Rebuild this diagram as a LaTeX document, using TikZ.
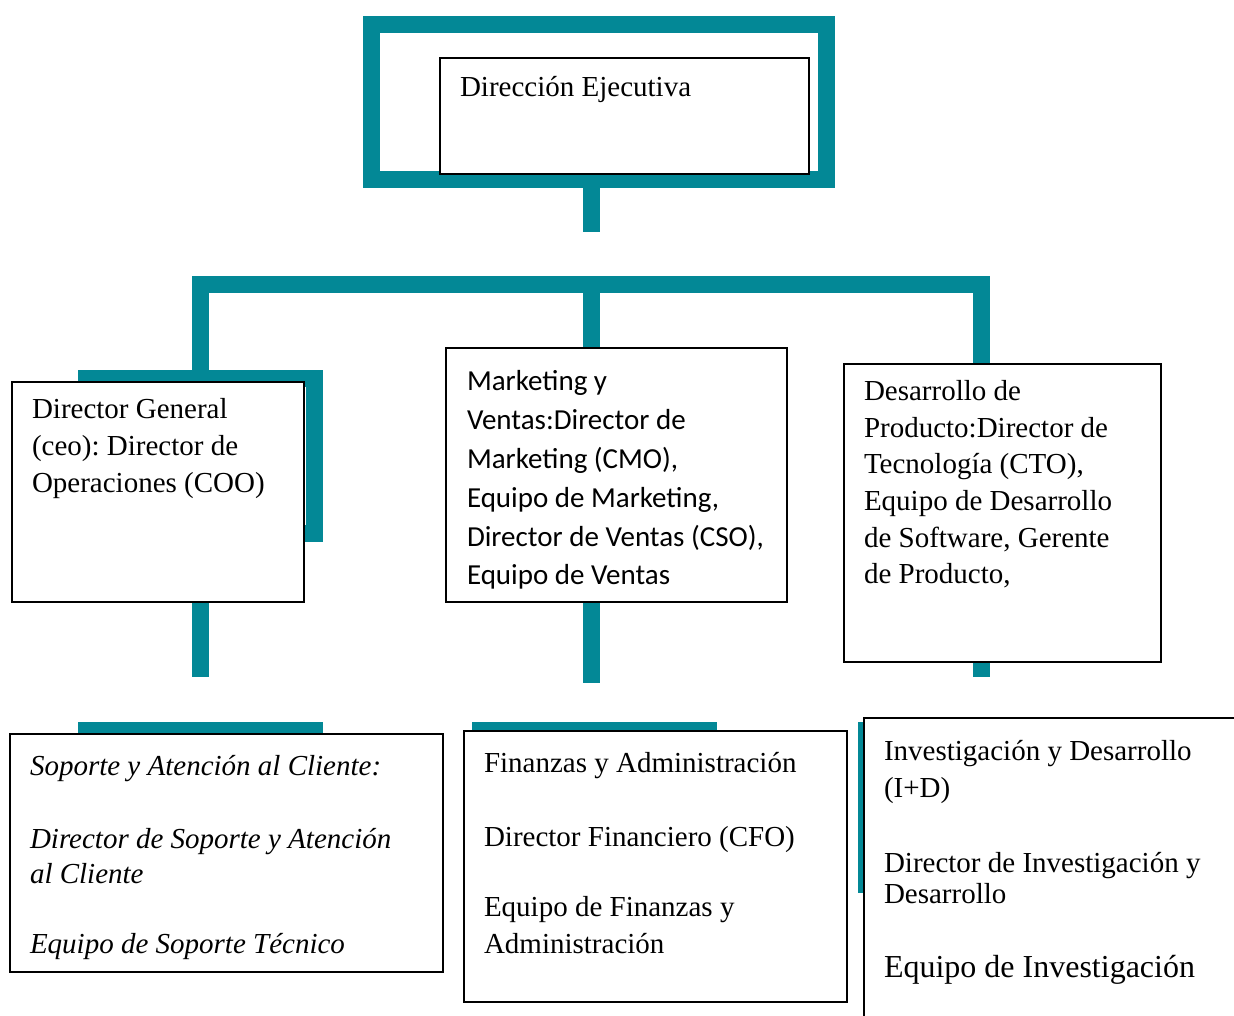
\documentclass[tikz,border=0pt]{standalone}
\usepackage{fontspec}
\setmainfont{Liberation Serif}
\newfontfamily\calibfont{Carlito}
\usetikzlibrary{backgrounds}
\definecolor{tealbar}{RGB}{3,136,150}
\frenchspacing
\begin{document}
\begin{tikzpicture}[x=0.75pt,y=-0.75pt,
  bar/.style={draw=tealbar,line width=12.75pt,line cap=butt,line join=miter},
  frame/.style={draw=tealbar,line width=12.75pt,line join=miter,inner sep=0pt,outer sep=0pt,anchor=north west},
  box/.style={draw=black,fill=white,line width=0.9pt,inner sep=0pt,outer sep=0pt,anchor=north west},
  txt/.style={anchor=base west,inner sep=0pt,outer sep=0pt,font=\fontsize{21.75pt}{26pt}\selectfont},
  txtsans/.style={anchor=base west,inner sep=0pt,outer sep=0pt,font=\fontsize{21.75pt}{26pt}\calibfont},
  txtit/.style={anchor=base west,inner sep=0pt,outer sep=0pt,font=\fontsize{21.75pt}{26pt}\selectfont\itshape},
  txtbig/.style={anchor=base west,inner sep=0pt,outer sep=0pt,font=\fontsize{24pt}{28pt}\selectfont}]
\useasboundingbox (0,0) rectangle (1234,1016);
\clip (0,0) rectangle (1234,1016);

% white boxes
\node[box,minimum width=369*0.75pt,minimum height=116*0.75pt] (A) at (440,58) {};
\node[box,minimum width=292*0.75pt,minimum height=220*0.75pt] (B) at (12,382) {};
\node[box,minimum width=341*0.75pt,minimum height=254*0.75pt] (C) at (446,348) {};
\node[box,minimum width=317*0.75pt,minimum height=298*0.75pt] (D) at (844,364) {};
\node[box,minimum width=433*0.75pt,minimum height=238*0.75pt] (E) at (10,734) {};
\node[box,minimum width=383*0.75pt,minimum height=271*0.75pt] (F) at (464,731) {};
\node[box,minimum width=400*0.75pt,minimum height=320*0.75pt] (G) at (864,718) {};

% junction points
\coordinate (j0) at (591.5,232);
\coordinate (jl) at (200.5,284.5);
\coordinate (jm) at (591.5,284.5);
\coordinate (jr) at (981.5,284.5);
\coordinate (el) at (200.5,677);
\coordinate (em) at (591.5,683);
\coordinate (er) at (981.5,677);

\begin{pgfonlayer}{background}
% teal frames
\node[frame,minimum width=455*0.75pt,minimum height=155*0.75pt] (fA) at (371.5,24.5) {};
\node[frame,minimum width=228*0.75pt,minimum height=155*0.75pt] (fB) at (86.5,378.5) {};
\node[frame,minimum width=228*0.75pt,minimum height=170*0.75pt] (fE) at (86.5,730.5) {};
\node[frame,minimum width=228*0.75pt,minimum height=170*0.75pt] (fF) at (480.5,730.5) {};
\node[frame,minimum width=300*0.75pt,minimum height=154*0.75pt] (fG) at (866.5,730.5) {};
% teal connectors
\draw[bar] (j0 |- fA.south) -- (j0);
\draw[bar] (fB.north -| jl) -- (jl) -- (jr) -- (D.north -| jr);
\draw[bar] (jm) -- (C.north -| jm);
\draw[bar] (B.south -| el) -- (el);
\draw[bar] (C.south -| em) -- (em);
\draw[bar] (D.south -| er) -- (er);
\end{pgfonlayer}

% texts
\node[txt] (tA) at (460,97) {Dirección Ejecutiva};

\node[txt] (tB1) at (32,418) {Director General};
\node[txt] (tB2) at (32,455) {(ceo): Director de};
\node[txt] (tB3) at (32,492) {Operaciones (COO)};

\node[txtsans] (tC1) at (467,390) {Marketing y};
\node[txtsans] (tC2) at (467,429) {Ventas:Director de};
\node[txtsans] (tC3) at (467,468) {Marketing (CMO),};
\node[txtsans] (tC4) at (467,507) {Equipo de Marketing,};
\node[txtsans] (tC5) at (467,546) {Director de Ventas (CSO),};
\node[txtsans] (tC6) at (467,584) {Equipo de Ventas};

\node[txt] (tD1) at (864,400) {Desarrollo de};
\node[txt] (tD2) at (864,437) {Producto:Director de};
\node[txt] (tD3) at (864,473) {Tecnología (CTO),};
\node[txt] (tD4) at (864,510) {Equipo de Desarrollo};
\node[txt] (tD5) at (864,547) {de Software, Gerente};
\node[txt] (tD6) at (864,583) {de Producto,};

\node[txtit] (tE1) at (30,775) {Soporte y Atención al Cliente:};
\node[txtit] (tE2) at (30,848) {Director de Soporte y Atención};
\node[txtit] (tE3) at (30,883) {al Cliente};
\node[txtit] (tE4) at (30,953) {Equipo de Soporte Técnico};

\node[txt] (tF1) at (484,772) {Finanzas y Administración};
\node[txt] (tF2) at (484,846) {Director Financiero (CFO)};
\node[txt] (tF3) at (484,916) {Equipo de Finanzas y};
\node[txt] (tF4) at (484,953) {Administración};

\node[txt] (tG1) at (884,760) {Investigación y Desarrollo};
\node[txt] (tG2) at (884,797) {(I+D)};
\node[txt] (tG3) at (884,872) {Director de Investigación y};
\node[txt] (tG4) at (884,903) {Desarrollo};
\node[txtbig] (tG5) at (884,977) {Equipo de Investigación};
\end{tikzpicture}
\end{document}
